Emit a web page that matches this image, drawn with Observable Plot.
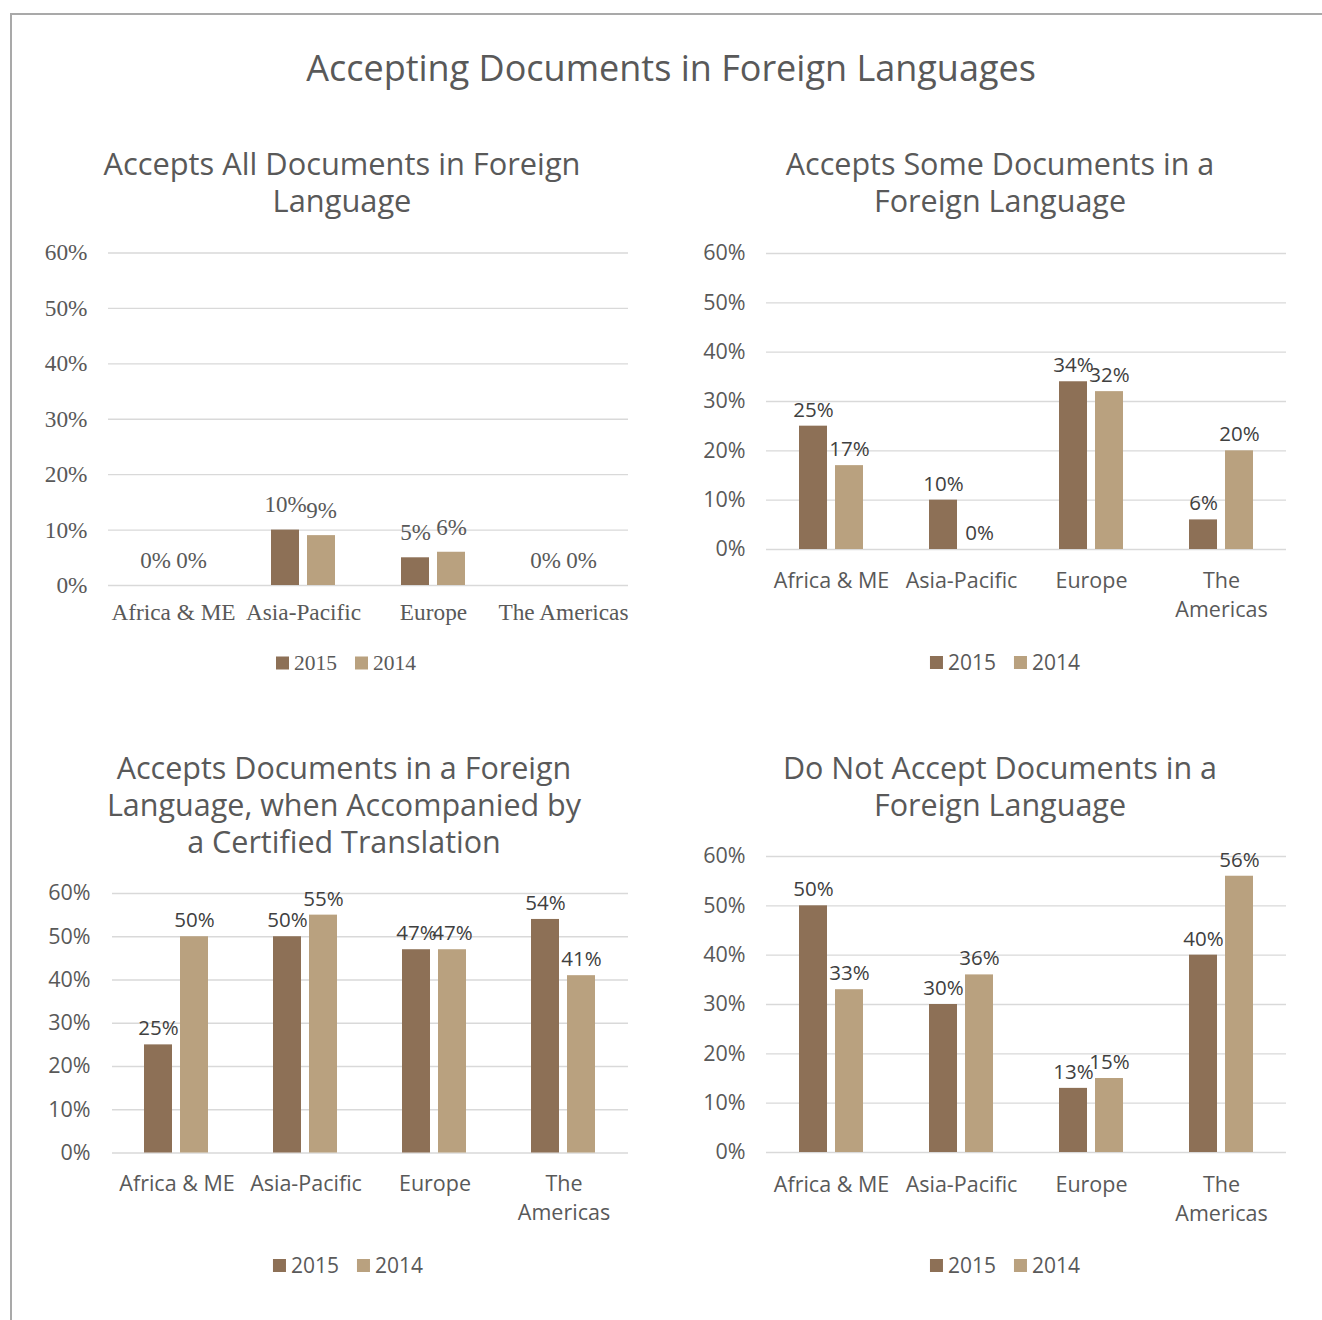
<!DOCTYPE html>
<html>
<head>
<meta charset="utf-8">
<script src="https://cdn.jsdelivr.net/npm/d3@7"></script>
<script src="https://cdn.jsdelivr.net/npm/@observablehq/plot@0.6"></script>
<style>
  html, body { margin: 0; padding: 0; background: #fff; }
  #page { position: relative; width: 1322px; height: 1320px; overflow: hidden; background: #fff; }
  #frame { position: absolute; left: 10px; top: 13px; width: 1330px; height: 1330px; border-top: 2px solid #a9a9a9; border-left: 2px solid #a9a9a9; }
  .sans { font-family: "Open Sans", "Noto Sans", sans-serif; }
  .serif { font-family: "Liberation Serif", "DejaVu Serif", serif; }
  .title { position: absolute; color: #595959; text-align: center; white-space: nowrap; transform: translateX(-50%); }
  .title .ln { display: block; }
  .legend { position: absolute; color: #595959; white-space: nowrap; display: flex; align-items: center; transform: translate(-50%, -50%); }
  .legend .sw { display: inline-block; width: 13px; height: 13px; margin-right: 5px; }
  .legend .item { display: inline-flex; align-items: center; margin: 0 9px; }
  .plot { position: absolute; }
</style>
</head>
<body>
<div id="page">
  <div id="frame"></div>
</div>
<script>
// ---------- data ----------
const regions = ["Africa & ME", "Asia-Pacific", "Europe", "The Americas"];
const years = ["2015", "2014"];
const allDocs2015 = [0, 10, 5, 0];
const allDocs2014 = [0, 9, 6, 0];
const someDocs2015 = [25, 10, 34, 6];
const someDocs2014 = [17, 0, 32, 20];
const certified2015 = [25, 50, 47, 54];
const certified2014 = [50, 55, 47, 41];
const notAccept2015 = [50, 30, 13, 40];
const notAccept2014 = [33, 36, 15, 56];
const yTicks = [0, 10, 20, 30, 40, 50, 60];
const mainTitle = "Accepting Documents in Foreign Languages";
const panelTitles = [
  ["Accepts All Documents in Foreign", "Language"],
  ["Accepts Some Documents in a", "Foreign Language"],
  ["Accepts Documents in a Foreign", "Language, when Accompanied by", "a Certified Translation"],
  ["Do Not Accept Documents in a", "Foreign Language"]
];
const colors = ["#8D7056", "#B9A17F"];

function rows(v2015, v2014) {
  const out = [];
  regions.forEach((r, i) => {
    out.push({region: r, year: "2015", value: v2015[i]});
    out.push({region: r, year: "2014", value: v2014[i]});
  });
  return out;
}

const page = document.getElementById("page");

function addTitle(lines, cx, top, size, cls, lh) {
  const d = document.createElement("div");
  d.className = "title " + cls;
  d.style.left = cx + "px";
  d.style.top = top + "px";
  d.style.fontSize = size + "px";
  d.style.lineHeight = lh + "px";
  lines.forEach(t => {
    const s = document.createElement("span");
    s.className = "ln";
    s.textContent = t;
    d.appendChild(s);
  });
  page.appendChild(d);
}

function addLegend(cx, cy, cls, size) {
  const d = document.createElement("div");
  d.className = "legend " + cls;
  d.style.left = cx + "px";
  d.style.top = cy + "px";
  d.style.fontSize = size + "px";
  years.forEach((y, i) => {
    const it = document.createElement("span");
    it.className = "item";
    const sw = document.createElement("span");
    sw.className = "sw";
    sw.style.background = colors[i];
    it.appendChild(sw);
    it.appendChild(document.createTextNode(y));
    d.appendChild(it);
  });
  page.appendChild(d);
}

function panel(cfg) {
  const data = rows(cfg.v2015, cfg.v2014);
  const chart = Plot.plot({
    width: cfg.width,
    height: cfg.height,
    marginLeft: cfg.ml,
    marginRight: cfg.mr,
    marginTop: cfg.mt,
    marginBottom: cfg.mb,
    style: {
      fontFamily: cfg.font,
      fontSize: cfg.fontSize + "px",
      color: "#595959",
      background: "transparent",
      overflow: "visible"
    },
    fx: {domain: regions, padding: 0, label: null},
    x: {domain: years, axis: null, paddingInner: 8 / 37, paddingOuter: 0.865},
    y: {
      domain: [0, 60],
      ticks: yTicks,
      tickFormat: d => d + "%",
      tickSize: 0,
      tickPadding: cfg.yPad,
      label: null
    },
    color: {domain: years, range: colors},
    marks: [
      Plot.ruleY(yTicks, {stroke: "#d9d9d9", strokeWidth: 1.4}),
      Plot.axisFx({
        anchor: "bottom",
        label: null,
        tickSize: 0,
        tickPadding: cfg.xPad,
        lineHeight: cfg.lineHeight,
        tickFormat: cfg.wrap ? (d => d === "The Americas" ? "The\nAmericas" : d) : (d => d)
      }),
      Plot.barY(data, {fx: "region", x: "year", y: "value", fill: "year"}),
      Plot.text(data, {
        fx: "region", x: "year", y: "value",
        text: d => d.value + "%",
        dy: cfg.labelDy,
        fill: cfg.labelColor,
        fontSize: cfg.labelSize
      })
    ]
  });
  chart.classList.add("plot");
  chart.style.left = cfg.left + "px";
  chart.style.top = cfg.top + "px";
  page.appendChild(chart);
}

const SANS = '"Open Sans", "Noto Sans", sans-serif';
const SERIF = '"Liberation Serif", "DejaVu Serif", serif';

// main title
addTitle([mainTitle], 671, 43, 36, "sans", 50);

// panel titles
addTitle(panelTitles[0], 342, 145, 30.8, "sans", 37);
addTitle(panelTitles[1], 1000, 145, 30.5, "sans", 37);
addTitle(panelTitles[2], 344, 749, 30.5, "sans", 37);
addTitle(panelTitles[3], 1000, 749, 30.5, "sans", 37);

// panels
panel({v2015: allDocs2015, v2014: allDocs2014, left: 0, top: 230, width: 661, height: 420,
  ml: 107, mr: 33, mt: 22.5, mb: 65, font: SERIF, fontSize: 23.3, xPad: 13, yPad: 21,
  wrap: false, lineHeight: 1.3, labelDy: -25, labelColor: "#595959", labelSize: 23});
panel({v2015: someDocs2015, v2014: someDocs2014, left: 661, top: 230, width: 661, height: 420,
  ml: 104, mr: 36, mt: 23, mb: 101, font: SANS, fontSize: 21.5, xPad: 18, yPad: 21,
  wrap: true, lineHeight: 1.34, labelDy: -16, labelColor: "#404040", labelSize: 20.5});
panel({v2015: certified2015, v2014: certified2014, left: 0, top: 870, width: 661, height: 400,
  ml: 111, mr: 33, mt: 23, mb: 117.5, font: SANS, fontSize: 21.5, xPad: 18, yPad: 22,
  wrap: true, lineHeight: 1.34, labelDy: -16, labelColor: "#404040", labelSize: 20.5});
panel({v2015: notAccept2015, v2014: notAccept2014, left: 661, top: 830, width: 661, height: 440,
  ml: 104, mr: 36, mt: 26, mb: 118, font: SANS, fontSize: 21.5, xPad: 19, yPad: 21,
  wrap: true, lineHeight: 1.34, labelDy: -16, labelColor: "#404040", labelSize: 20.5});

// legends
addLegend(346, 663, "serif", 21.5);
addLegend(1005, 662, "sans", 21);
addLegend(348, 1265, "sans", 21);
addLegend(1005, 1265, "sans", 21);
</script>
</body>
</html>
